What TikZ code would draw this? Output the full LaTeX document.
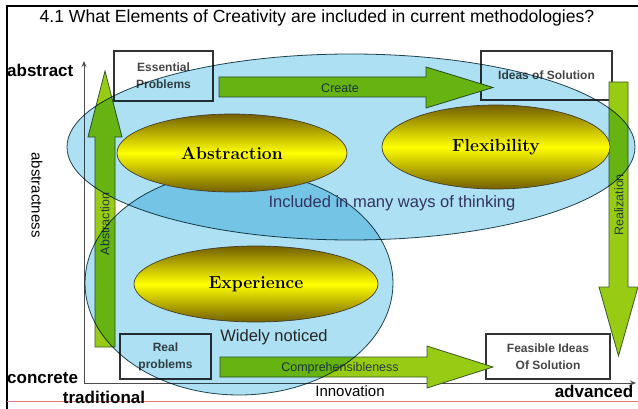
\documentclass[tikz,border=0pt]{standalone}
\usepackage{fontspec}
\setsansfont{Liberation Sans}
\usetikzlibrary{shapes.geometric,arrows.meta}
\definecolor{skyb}{RGB}{172,224,242}
\definecolor{edgeb}{RGB}{40,70,80}
\definecolor{ygreen}{RGB}{152,204,20}
\definecolor{agreenedge}{RGB}{60,85,45}
\definecolor{olivedk}{RGB}{115,95,0}
\definecolor{boxtxt}{RGB}{70,70,70}
\definecolor{arrtext}{RGB}{35,60,60}
\definecolor{redline}{RGB}{225,120,120}
\newcommand\fsz[1]{\fontsize{#1}{#1}\selectfont}
\tikzset{
 boxnode/.style={draw=black!80, line width=1.1pt, fill=white, inner sep=0pt, align=center, text=boxtxt, font=\sffamily\bfseries\fontsize{12}{17}\selectfont},
 blueell/.style={ellipse, draw=edgeb, line width=0.8pt, fill=skyb, inner sep=0pt},
 yell/.style={ellipse, draw=black!70!olive, line width=0.7pt, top color=olivedk, bottom color=olivedk, middle color=yellow, inner sep=0pt, font=\bfseries\fsz{17.5}},
 garrow/.style={fill=ygreen, draw=agreenedge, line width=0.8pt, line join=miter},
 arrtxt/.style={font=\sffamily\fsz{12.5}, text=arrtext, inner sep=0pt},
 axislbl/.style={font=\sffamily\bfseries\fsz{17}, inner sep=0pt},
 axisline/.style={draw=black!70, line width=1pt, -{Stealth[length=6pt,width=5pt]}},
}
\begin{document}
\begin{tikzpicture}[x=1pt,y=-1pt]
\useasboundingbox (0,0) rectangle (638,409);
% frame
\draw[black, line width=1.6pt] (7,409) -- (7,6) -- (638,6);
\draw[redline, line width=0.8pt] (7,401) -- (638,401);
% axes
\coordinate (origin) at (84,383);
\coordinate (ytop) at (84,61);
\coordinate (xend) at (636,383);
\draw[axisline] (origin) -- (ytop);
\draw[axisline] (origin) -- (xend);
% boxes
\node[boxnode, minimum width=99pt, minimum height=50pt] (ep) at (163.5,76) {Essential\\Problems};
\node[boxnode, minimum width=131pt, minimum height=49pt] (is) at (546.5,75.5) {Ideas of Solution};
\node[boxnode, minimum width=91pt, minimum height=45pt] (rp) at (165.5,356.5) {Real\\problems};
\node[boxnode, minimum width=124pt, minimum height=45pt] (fs) at (548,356.5) {Feasible Ideas\\Of Solution};
% green arrows
\draw[garrow] (219,77) -- (426,77) -- (426,67) -- (493,87.5) -- (426,108) -- (426,97) -- (219,97) -- cycle;
\node[arrtxt] (create) at (340,88) {Create};
\draw[garrow] (220,357) -- (427,357) -- (427,346) -- (493,367) -- (427,388) -- (427,377) -- (220,377) -- cycle;
\node[arrtxt] (compr) at (340,368) {Comprehensibleness};
\draw[garrow] (95,347) -- (95,137) -- (88,137) -- (105,71) -- (122,137) -- (115,137) -- (115,347) -- cycle;
\node[arrtxt, rotate=90] (abstr) at (105,224) {Abstraction};
\draw[garrow] (609,82) -- (628,82) -- (628,287) -- (638,287) -- (618.5,356) -- (599,287) -- (609,287) -- cycle;
\node[arrtxt, rotate=90] (real) at (619,205) {Realization};
% blue ellipses
\begin{scope}[blend mode=multiply]
\node[blueell, minimum width=568pt, minimum height=186pt] (many) at (351,147) {};
\node[blueell, minimum width=308pt, minimum height=224pt] (wide) at (239,283) {};
\end{scope}
% yellow ellipses
\node[yell, minimum width=230pt, minimum height=78pt] (abs) at (232,153) {Abstraction};
\node[yell, minimum width=228pt, minimum height=84pt] (flex) at (496,147) {Flexibility};
\node[yell, minimum width=244pt, minimum height=76pt] (exp) at (256,284) {Experience};
% labels
\node[font=\sffamily\fsz{16.5}, text=black!70!blue!60!gray] (inc) at (392,203) {Included in many ways of thinking};
\node[font=\sffamily\fsz{16.5}, text=black!85] (wid) at (274,337) {Widely noticed};
\node[font=\sffamily\fsz{17.6}] (title) at (317,18) {4.1 What Elements of Creativity are included in current methodologies?};
\node[axislbl, anchor=west] (labs) at (7,70) {abstract};
\node[axislbl, anchor=west] (lcon) at (7,378) {concrete};
\node[axislbl] (ltrad) at (104,397) {traditional};
\node[axislbl] (ladv) at (594,391) {advanced};
\node[font=\sffamily\fsz{15}, inner sep=0pt] (linn) at (350,391) {Innovation};
\node[font=\sffamily\fsz{15}, inner sep=0pt, rotate=-90] (labsn) at (37,195) {abstractness};
\end{tikzpicture}
\end{document}
